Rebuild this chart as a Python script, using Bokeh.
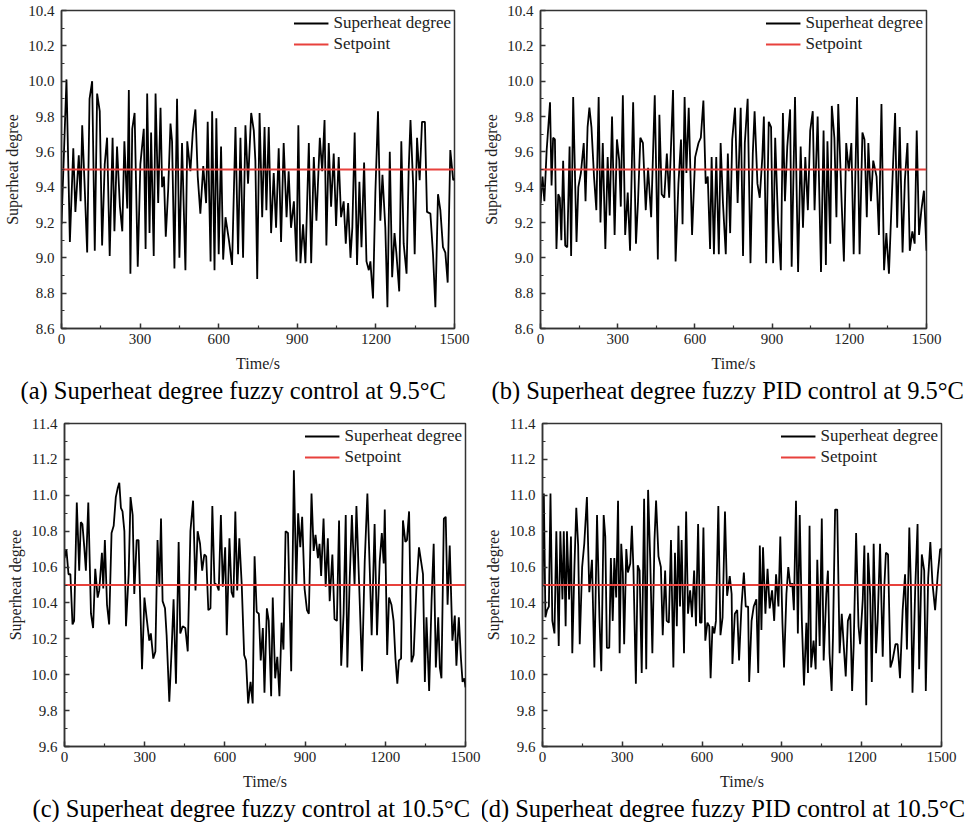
from bokeh.plotting import figure
from bokeh.models import Range1d, FixedTicker, Legend, LegendItem, Title, PrintfTickFormatter
from bokeh.layouts import column, row
from bokeh.embed import file_html
from bokeh.resources import INLINE

FONT = "Liberation Serif"

# ---------------- data ----------------
time_a = [0,19,32,45,53,66,73,79,88,98,107,117,127,136,146,155,165,174,184,195,
          202,212,223,232,240,251,257,263,270,279,291,301,314,321,327,336,342,352,359,369,
          378,384,391,398,407,416,422,431,441,450,460,473,480,492,501,511,520,530,541,552,
          558,569,575,584,591,600,609,617,626,639,651,664,674,683,693,702,712,724,734,740,
          747,756,766,775,782,791,800,810,819,829,838,848,859,867,876,887,897,904,912,922,
          931,944,953,963,973,986,995,1004,1011,1020,1029,1039,1048,1058,1067,1077,1085,1094,1103,1110,
          1119,1128,1137,1145,1155,1164,1173,1179,1189,1198,1208,1217,1225,1236,1244,1253,1262,1271,1278,1289,
          1297,1306,1317,1325,1332,1342,1348,1357,1367,1376,1387,1395,1408,1418,1427,1437,1446,1456,1465,1474,
          1484,1495,1500]
superheat_a = [9.19,10.01,9.09,9.62,9.26,9.58,9.32,9.75,9.42,9.03,
               9.90,10.00,9.04,9.93,9.83,9.07,9.53,9.68,9.01,9.68,
               9.15,9.63,9.29,9.15,9.66,9.28,9.95,8.91,9.73,9.82,
               8.95,9.53,9.73,9.05,9.93,9.14,9.71,9.01,9.93,9.31,
               9.85,9.40,9.46,9.12,9.38,9.76,9.66,8.94,9.90,9.00,
               9.65,8.93,9.66,9.49,9.71,9.84,9.46,9.25,9.52,9.31,
               9.77,8.98,9.83,8.93,9.79,9.02,9.63,8.99,9.23,9.10,
               8.96,9.74,9.02,9.68,9.00,9.75,9.42,9.82,9.72,9.55,
               8.88,9.82,9.23,9.74,9.27,9.74,9.14,9.48,9.17,9.62,
               9.09,9.65,9.23,9.49,9.17,9.32,8.98,9.75,8.97,9.19,
               8.97,9.65,8.97,9.57,9.21,9.68,9.49,9.78,9.07,9.65,
               9.29,9.59,9.18,9.57,9.23,9.32,9.08,9.31,9.00,9.17,
               9.71,8.96,9.43,9.06,9.54,8.98,8.93,8.98,8.77,9.37,
               9.83,9.21,9.47,9.17,8.72,9.60,8.89,9.14,9.03,8.81,
               9.66,9.08,8.91,9.49,9.78,9.42,9.02,9.68,9.44,9.77,
               9.77,9.26,9.25,9.02,8.72,9.36,9.27,9.06,9.03,8.86,
               9.61,9.44,9.45]

time_b = [0,8,15,24,37,43,49,56,62,69,75,81,88,96,104,113,119,127,140,147,
          157,168,175,183,190,198,208,217,226,233,242,252,261,269,278,288,297,306,312,320,
          329,339,348,360,371,379,388,398,409,418,430,444,456,462,471,481,491,500,515,525,
          536,546,552,560,567,576,589,601,614,623,633,642,650,659,665,674,683,693,700,709,
          720,728,737,745,756,766,778,787,794,805,816,825,832,843,852,862,868,877,887,896,
          904,912,923,934,942,950,959,970,976,989,1001,1011,1020,1029,1039,1048,1058,1065,1077,1090,
          1100,1109,1115,1126,1132,1142,1150,1157,1170,1179,1188,1198,1208,1217,1230,1240,1251,1259,1268,1274,
          1284,1293,1306,1315,1325,1335,1344,1354,1360,1369,1378,1386,1396,1407,1416,1426,1435,1445,1454,1462,
          1471,1480,1490,1500]
superheat_b = [9.31,9.46,9.32,9.61,9.88,9.41,9.68,9.67,9.05,9.36,
               9.34,9.10,9.55,9.07,9.06,9.63,9.01,9.91,9.09,9.40,
               9.48,9.65,9.32,9.74,9.85,9.74,9.46,9.27,9.91,9.20,
               9.65,9.05,9.57,9.24,9.80,9.13,9.67,9.55,9.29,9.92,
               9.13,9.37,9.04,9.88,9.08,9.32,9.68,9.65,9.27,9.51,
               9.23,9.92,8.99,9.81,9.36,9.34,9.59,9.34,9.95,8.98,
               9.42,9.67,9.19,9.91,9.48,9.85,9.13,9.57,9.65,9.68,
               9.89,9.42,9.46,9.05,9.57,9.02,9.57,9.02,9.65,9.31,
               9.02,9.59,9.14,9.67,9.85,9.31,9.85,9.01,9.65,9.90,
               8.97,9.59,9.83,9.42,9.34,9.57,9.80,8.97,9.77,9.74,
               8.97,9.68,9.21,8.93,9.82,9.32,9.63,9.84,8.95,9.91,
               8.92,9.63,9.17,9.57,9.27,9.72,9.83,9.27,9.80,8.92,
               9.72,8.96,9.66,9.08,9.86,9.68,9.23,9.87,9.32,8.98,
               9.65,9.49,9.65,9.02,9.91,9.02,9.71,9.67,9.23,9.65,
               9.32,9.55,9.46,9.13,9.87,8.93,9.14,8.91,9.14,9.49,
               9.82,9.17,9.74,9.03,9.44,9.65,9.04,9.15,9.08,9.72,
               9.13,9.27,9.38,9.04]

time_c = [0,7,15,22,30,36,46,55,61,67,74,80,89,99,107,115,124,130,140,145,
          151,159,167,176,184,192,199,205,211,217,224,230,240,247,255,261,270,277,290,299,
          307,317,323,332,340,348,355,361,367,376,382,392,401,408,417,427,433,442,452,461,
          471,481,490,498,507,515,523,530,538,546,553,561,570,577,585,592,601,607,617,625,
          632,639,646,654,663,672,679,687,696,704,711,719,727,734,742,748,757,764,773,779,
          788,796,804,812,819,827,836,848,858,867,874,882,889,898,907,914,924,932,939,948,
          954,960,969,977,985,992,1002,1010,1019,1027,1035,1044,1052,1058,1067,1075,1085,1092,1102,1113,
          1123,1133,1142,1149,1160,1169,1179,1187,1194,1198,1207,1214,1223,1231,1238,1245,1251,1259,1266,1275,
          1281,1289,1298,1306,1316,1326,1335,1341,1348,1354,1364,1373,1381,1389,1398,1404,1410,1419,1426,1433,
          1441,1451,1460,1466,1475,1483,1489,1496,1500]
superheat_c = [10.65,10.70,10.56,10.56,10.28,10.30,10.96,10.58,10.85,10.84,
               10.71,10.58,10.96,10.34,10.26,10.59,10.43,10.47,10.68,10.48,
               10.75,10.39,10.28,10.79,10.83,10.99,11.04,11.07,10.93,10.91,
               10.80,10.27,10.56,10.99,10.89,10.45,10.75,10.75,10.03,10.43,
               10.32,10.19,10.23,10.09,10.13,10.75,10.49,10.87,10.41,10.37,
               10.22,9.85,10.15,10.42,9.95,10.74,10.23,10.27,10.26,10.13,
               10.80,10.97,10.47,10.80,10.73,10.58,10.67,10.66,10.36,10.37,
               10.94,10.51,10.50,10.47,10.89,10.49,10.71,10.22,10.76,10.46,
               10.43,10.91,10.47,10.76,10.50,10.11,10.08,9.84,9.96,9.84,
               10.66,10.35,10.34,10.08,10.26,9.90,10.37,10.30,9.88,10.43,
               9.98,10.10,9.88,10.29,10.14,10.80,10.79,10.02,11.14,10.50,
               10.90,10.71,10.88,10.48,10.36,10.34,11.01,10.69,10.78,10.65,
               10.73,10.55,10.87,10.49,10.76,10.41,10.67,10.31,10.30,10.86,
               10.05,10.34,10.89,10.04,10.54,10.89,10.50,10.94,10.51,10.02,
               10.63,11.01,10.58,10.22,10.84,10.22,10.63,10.79,10.62,10.92,
               10.11,10.43,10.39,10.30,10.09,9.95,10.08,10.09,10.86,10.74,
               10.75,10.91,10.07,10.11,10.47,10.71,10.62,10.56,9.96,10.32,
               9.91,10.41,10.73,10.04,10.32,10.04,9.98,10.87,10.88,10.39,
               10.72,10.19,10.33,10.05,10.32,10.09,9.96,9.98,9.93]

time_d = [0,5,11,17,24,30,37,45,52,61,67,75,80,87,92,100,107,112,120,127,
          134,140,149,157,167,176,186,195,205,214,221,230,236,242,251,257,264,270,277,284,
          290,296,302,307,315,321,330,336,342,351,358,365,373,382,390,397,405,413,421,427,
          436,445,452,461,467,475,483,492,498,505,511,517,523,532,540,547,555,562,570,577,
          585,592,598,605,612,620,627,632,639,646,652,661,669,677,686,694,704,711,714,723,
          732,739,748,757,764,773,777,786,794,804,811,817,823,829,838,846,854,863,871,878,
          887,894,902,908,917,924,932,939,945,953,960,967,975,983,992,998,1004,1010,1019,1027,
          1033,1042,1050,1057,1067,1073,1079,1087,1092,1100,1108,1117,1125,1133,1140,1148,1157,1164,1170,1179,
          1188,1194,1204,1210,1217,1224,1232,1238,1245,1254,1260,1269,1279,1285,1291,1299,1308,1316,1327,1335,
          1344,1354,1363,1370,1379,1385,1391,1401,1410,1416,1426,1435,1441,1450,1458,1466,1476,1486,1495,1500]
superheat_d = [10.49,11.01,10.32,10.36,10.38,11.01,10.30,10.23,10.80,10.16,
               10.80,10.42,10.80,10.27,10.80,10.42,10.77,10.12,10.60,10.93,
               10.72,10.17,10.60,10.73,10.99,10.46,10.64,10.04,10.89,10.32,
               10.02,10.89,10.77,10.15,10.15,10.65,10.30,10.65,10.43,10.97,
               10.12,10.73,10.57,10.17,10.70,10.57,10.62,10.83,10.58,9.95,
               10.61,10.58,10.01,10.98,10.03,11.03,10.64,10.12,10.75,10.97,
               10.66,10.60,10.22,10.58,10.30,10.29,10.75,10.04,10.68,10.27,
               10.83,10.38,10.75,10.12,10.91,10.34,10.47,10.32,10.58,10.27,
               10.84,10.29,10.29,10.82,10.19,10.29,10.27,9.98,10.27,10.23,
               10.30,10.94,10.22,10.32,10.91,10.44,10.55,10.45,10.06,10.34,
               10.36,10.08,10.38,10.57,10.38,10.38,9.96,10.30,10.38,10.42,
               10.01,10.72,10.25,10.71,10.34,10.59,10.37,10.47,10.30,10.56,
               10.38,10.77,10.29,10.04,10.45,10.60,10.49,10.51,10.36,10.97,
               10.23,10.89,10.30,9.94,10.29,10.01,10.83,10.04,10.19,10.03,
               10.64,10.16,10.87,10.08,10.45,10.58,10.12,9.91,10.21,10.92,
               10.92,10.12,10.34,10.15,9.99,10.30,10.34,9.91,10.17,10.79,
               10.27,10.17,10.42,10.72,9.83,10.68,10.44,9.96,10.73,10.12,
               10.30,10.73,10.10,10.49,10.68,10.67,10.04,10.08,10.17,10.17,
               9.98,10.36,10.56,10.14,10.82,10.49,9.90,10.47,10.84,10.03,
               10.67,10.58,9.91,10.54,10.74,10.51,10.36,10.56,10.70,10.70]

setpoint_time = [0, 1500]
setpoint_95 = [9.5, 9.5]
setpoint_105 = [10.5, 10.5]

x_ticks = [0, 300, 600, 900, 1200, 1500]
y_ticks_95 = [8.6, 8.8, 9.0, 9.2, 9.4, 9.6, 9.8, 10.0, 10.2, 10.4]
y_ticks_105 = [9.6, 9.8, 10.0, 10.2, 10.4, 10.6, 10.8, 11.0, 11.2, 11.4]

captions = ["(a) Superheat degree fuzzy control at 9.5\u00b0C",
            "(b) Superheat degree fuzzy PID control at 9.5\u00b0C",
            "(c) Superheat degree fuzzy control at 10.5\u00b0C",
            "(d) Superheat degree fuzzy PID control at 10.5\u00b0C"]


def midpoints(v):
    return [(v[i] + v[i + 1]) / 2 for i in range(len(v) - 1)]


def panel(t, v, sp, yticks, caption, width, height, bl, br, bt, bb, cap_off):
    p = figure(width=width, height=height, output_backend="svg", toolbar_location=None,
               x_range=Range1d(x_ticks[0], x_ticks[-1]),
               y_range=Range1d(yticks[0], yticks[-1]),
               min_border_left=bl, min_border_right=br, min_border_top=bt,
               min_border_bottom=bb)
    p.xgrid.visible = False
    p.ygrid.visible = False
    p.outline_line_color = "#333333"
    p.outline_line_width = 1.5
    p.background_fill_color = "white"
    p.border_fill_color = "white"

    r1 = p.line(t, v, line_color="black", line_width=1.8)
    r2 = p.line(setpoint_time, sp, line_color="#e8413c", line_width=2)

    p.xaxis.ticker = FixedTicker(ticks=x_ticks, minor_ticks=midpoints(x_ticks))
    p.yaxis.ticker = FixedTicker(ticks=yticks, minor_ticks=midpoints(yticks))
    p.yaxis.formatter = PrintfTickFormatter(format="%.1f")
    for ax in (p.xaxis[0], p.yaxis[0]):
        ax.axis_line_color = "#333333"
        ax.axis_line_width = 1.5
        ax.major_tick_in = 5
        ax.major_tick_out = 0
        ax.minor_tick_in = 3
        ax.minor_tick_out = 0
        ax.major_tick_line_color = "#333333"
        ax.minor_tick_line_color = "#333333"
        ax.major_tick_line_width = 1.5
        ax.minor_tick_line_width = 1.2
        ax.major_label_text_font = FONT
        ax.major_label_text_font_size = "15px"
        ax.major_label_text_color = "#222222"
        ax.axis_label_text_font = FONT
        ax.axis_label_text_font_style = "normal"
        ax.axis_label_text_font_size = "16px"
        ax.axis_label_text_color = "#222222"
    p.xaxis.axis_label = "Time/s"
    p.xaxis.major_label_standoff = 5
    p.xaxis.axis_label_standoff = 8
    p.yaxis.axis_label = "Superheat degree"
    p.yaxis.major_label_standoff = 7
    p.yaxis.axis_label_standoff = 4

    legend = Legend(items=[LegendItem(label="Superheat degree", renderers=[r1]),
                           LegendItem(label="Setpoint", renderers=[r2])],
                    location="top_right", border_line_color=None,
                    background_fill_alpha=0, label_text_font=FONT,
                    label_text_font_size="17px", label_text_color="#222222",
                    glyph_width=35, glyph_height=16, label_height=18,
                    label_standoff=5, spacing=1, padding=3, margin=3)
    p.add_layout(legend)

    cap = Title(text=caption, align="left", offset=cap_off, text_font=FONT,
                text_font_size="24.5px", text_font_style="normal", text_color="black",
                standoff=0)
    p.add_layout(cap, "below")
    return p


pa = panel(time_a, superheat_a, setpoint_95, y_ticks_95, captions[0],
           480, 404, 61, 26, 10, 76, -41)
pb = panel(time_b, superheat_b, setpoint_95, y_ticks_95, captions[1],
           488, 404, 52, 42, 10, 76, -49)
pc = panel(time_c, superheat_c, setpoint_105, y_ticks_105, captions[2],
           482, 418, 64, 17, 19, 76, -32)
pd = panel(time_d, superheat_d, setpoint_105, y_ticks_105, captions[3],
           486, 418, 58, 27, 19, 76, -62)

layout = column(row(pa, pb), row(pc, pd))

with open("out.html", "w") as f:
    f.write(file_html(layout, INLINE))
